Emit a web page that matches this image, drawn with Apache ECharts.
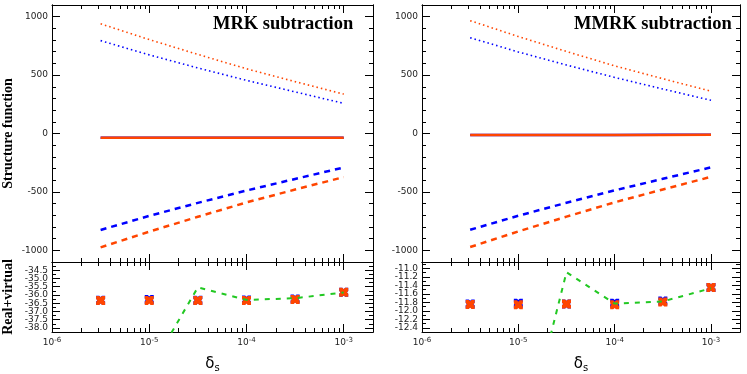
<!DOCTYPE html>
<html lang="en">
<head>
<meta charset="UTF-8">
<title>MRK / MMRK subtraction</title>
<script src="https://cdn.jsdelivr.net/npm/echarts@6/dist/echarts.min.js"></script>
<style>
  * { margin: 0; padding: 0; }
  body { background: #fff; }
  #main { width: 747px; height: 374px; }
</style>
</head>
<body>
<div id="main"></div>
<script>
  // delta_s sample points (half decades)
  var deltaS = [3.162e-6, 1e-5, 3.162e-5, 1e-4, 3.162e-4, 1e-3];

  // MRK subtraction (left panel)
  var mrkRealRed = [939, 804, 677, 554, 444, 337];
  var mrkRealBlue = [795, 673, 561, 455, 356, 258];
  var mrkVirtRed = [-975, -840, -713, -590, -480, -373];
  var mrkVirtBlue = [-826, -705, -594, -488, -389, -291];
  var mrkRvRed = [-36.33, -36.33, -36.33, -36.33, -36.27, -35.84];
  var mrkRvBlue = [-36.32, -36.28, -36.32, -36.30, -36.25, -35.84];
  var mrkRvGreen = [null, -40.6, -35.54, -36.30, -36.20, -35.85];

  // MMRK subtraction (right panel)
  var mmrkRealRed = [966, 830, 702, 579, 469, 362];
  var mmrkRealBlue = [820, 698, 586, 480, 381, 284];
  var mmrkVirtRed = [-972, -838, -712, -589, -479, -371];
  var mmrkVirtBlue = [-824, -704, -593, -487, -388, -290];
  var mmrkRvRed = [-11.85, -11.86, -11.84, -11.86, -11.79, -11.45];
  var mmrkRvBlue = [-11.84, -11.82, -11.84, -11.82, -11.77, -11.45];
  var mmrkRvGreen = [null, -15.6, -11.09, -11.83, -11.78, -11.47];

  // tick labels
  var sfTicks = [-1000, -500, 0, 500, 1000];
  var mrkRvTicks = [-38.0, -37.5, -37.0, -36.5, -36.0, -35.5, -35.0, -34.5];
  var mmrkRvTicks = [-12.4, -12.2, -12.0, -11.8, -11.6, -11.4, -11.2, -11.0];

  var RED = '#ff4500', BLUE = '#0000ff', GREEN = '#22c822';
  var INK = '#222';
  var crossPath = 'path://M0,0 L3.5,0 L5,1.5 L6.5,0 L10,0 L10,3.5 L8.5,5 L10,6.5 L10,10 L6.5,10 L5,8.5 L3.5,10 L0,10 L0,6.5 L1.5,5 L0,3.5 Z';

  function isDecade(v) {
    var e = Math.log10(v);
    return Math.abs(e - Math.round(e)) < 1e-6;
  }
  function inList(list, v) {
    return list.some(function (m) { return Math.abs(m - v) < 1e-6; });
  }

  var xAxes = [], yAxes = [];

  function logAxis(grid, pos, labels) {
    return {
      type: 'log', logBase: 10, gridIndex: grid, position: pos,
      min: 1e-6, max: 2e-3,
      axisLine: { show: true, onZero: false, lineStyle: { color: '#000' } },
      axisTick: { show: true, inside: true, length: 8 },
      minorTick: { show: true, splitNumber: 9, length: 4 },
      axisLabel: {
        show: true, margin: 5, color: INK, fontFamily: 'DejaVu Sans', fontSize: 9,
        formatter: function (v) {
          if (!labels || !isDecade(v)) return '';
          return '{b|10}{s|' + Math.round(Math.log10(v)) + '}';
        },
        rich: {
          b: { fontSize: 9, lineHeight: 12 },
          s: { fontSize: 7, verticalAlign: 'top', lineHeight: 8 }
        }
      },
      splitLine: { show: false }
    };
  }

  function addX(grid, labels) {
    var idx = xAxes.length;
    var main = logAxis(grid, 'bottom', labels);
    if (labels) {
      main.name = '{d|δ}{s|s}';
      main.nameLocation = 'middle';
      main.nameGap = 23;
      main.nameTextStyle = {
        rich: {
          d: { fontSize: 15, fontFamily: 'DejaVu Sans', color: '#000' },
          s: { fontSize: 10, fontFamily: 'DejaVu Sans', color: '#000', verticalAlign: 'bottom', padding: [8, 0, 0, 0] }
        }
      };
    }
    xAxes.push(main);
    xAxes.push(logAxis(grid, 'top', false));
    return idx;
  }

  function valAxis(grid, pos, min, max, step, major, digits, len, labels, customTicks) {
    var a = {
      type: 'value', gridIndex: grid, position: pos, min: min, max: max, interval: step,
      axisLine: { show: true, onZero: false, lineStyle: { color: '#000' } },
      axisTick: { show: true, inside: true, length: len },
      axisLabel: {
        show: true, margin: 4, color: INK, fontFamily: 'DejaVu Sans', fontSize: 9,
        formatter: function (v) {
          return labels && inList(major, v) ? v.toFixed(digits) : '';
        }
      },
      splitLine: { show: false }
    };
    if (customTicks) a.axisTick.customValues = major;
    return a;
  }

  function addY(grid, min, max, step, major, digits, name) {
    var idx = yAxes.length;
    var main = valAxis(grid, 'left', min, max, step, major, digits, 4, true, false);
    if (name) {
      main.name = name;
      main.nameLocation = 'middle';
      main.nameGap = 37;
      main.nameTextStyle = { fontFamily: 'Liberation Serif', fontWeight: 'bold', fontSize: 14, color: '#000' };
    }
    yAxes.push(main);
    yAxes.push(valAxis(grid, 'right', min, max, step, major, digits, 4, false, false));
    return idx;
  }

  function addMajorY(grid, min, max, step, major) {
    yAxes.push(valAxis(grid, 'left', min, max, step, major, 0, 8, false, true));
    yAxes.push(valAxis(grid, 'right', min, max, step, major, 0, 8, false, true));
  }

  function pairs(ys) {
    var out = [];
    for (var i = 0; i < deltaS.length; i++) {
      if (ys[i] !== null) out.push([deltaS[i], ys[i]]);
    }
    return out;
  }

  function line(xi, yi, ys, color, type, width) {
    return {
      type: 'line', xAxisIndex: xi, yAxisIndex: yi, data: pairs(ys),
      showSymbol: false,
      lineStyle: { color: color, type: type, width: width }
    };
  }

  function marks(xi, yi, ys, color, size) {
    return {
      type: 'scatter', xAxisIndex: xi, yAxisIndex: yi, data: pairs(ys),
      symbol: crossPath, symbolSize: size, itemStyle: { color: color, opacity: 1 }
    };
  }

  var series = [];
  var majorSets = [];

  function panel(gTop, gBot, real, virt, rv, rvMin, rvMax, rvStep, rvTicks, names) {
    var xt = addX(gTop, false);
    var yt = addY(gTop, -1100, 1100, 100, sfTicks, 0, names ? 'Structure function' : null);
    var xb = addX(gBot, true);
    var yb = addY(gBot, rvMin, rvMax, rvStep, rvTicks, 1, names ? 'Real+virtual' : null);
    majorSets.push([gTop, -1100, 1100, 100, sfTicks], [gBot, rvMin, rvMax, rvStep, rvTicks]);
    var dot = [1.5, 3], dash = [6, 5];
    series.push(line(xt, yt, real[1], BLUE, dot, 1.6));
    series.push(line(xt, yt, real[0], RED, dot, 1.6));
    series.push(line(xt, yt, virt[1], BLUE, dash, 2.5));
    series.push(line(xt, yt, virt[0], RED, dash, 2.5));
    series.push(line(xt, yt, rv[1], BLUE, 'solid', 2.5));
    series.push(line(xt, yt, rv[0], RED, 'solid', 2.5));
    series.push(line(xb, yb, rv[2], GREEN, [5, 6], 2));
    series.push(marks(xb, yb, rv[1], BLUE, 9));
    series.push(marks(xb, yb, rv[0], RED, 9));
  }

  panel(0, 1, [mrkRealRed, mrkRealBlue], [mrkVirtRed, mrkVirtBlue], [mrkRvRed, mrkRvBlue, mrkRvGreen],
    -38.25, -34.0, 0.25, mrkRvTicks, true);
  panel(2, 3, [mmrkRealRed, mmrkRealBlue], [mmrkVirtRed, mmrkVirtBlue], [mmrkRvRed, mmrkRvBlue, mmrkRvGreen],
    -12.5, -10.85, 0.1, mmrkRvTicks, false);
  // longer ticks at the labelled values, added after the data axes
  majorSets.forEach(function (m) { addMajorY(m[0], m[1], m[2], m[3], m[4]); });

  var titleStyle = { fontFamily: 'Liberation Serif', fontWeight: 'bold', fontSize: 18.5, color: '#000' };

  var chart = echarts.init(document.getElementById('main'));
  chart.setOption({
    animation: false,
    title: [
      { text: 'MRK subtraction', left: 213, top: 15, padding: 0, textStyle: titleStyle },
      { text: 'MMRK subtraction', left: 574, top: 15, padding: 0, textStyle: titleStyle }
    ],
    grid: [
      { left: 52, top: 1, width: 321, height: 261 },
      { left: 52, top: 262, width: 321, height: 75 },
      { left: 422, top: 1, width: 320, height: 261 },
      { left: 422, top: 262, width: 320, height: 75 }
    ],
    xAxis: xAxes,
    yAxis: yAxes,
    series: series
  });
</script>
</body>
</html>
